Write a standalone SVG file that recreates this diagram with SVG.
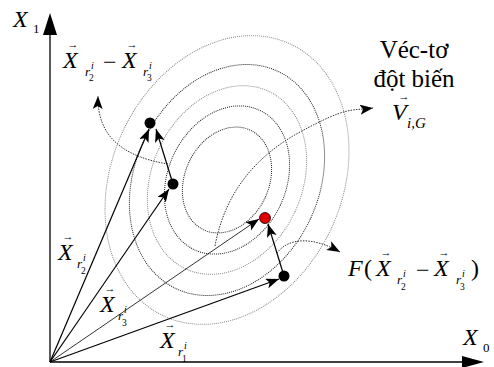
<svg xmlns="http://www.w3.org/2000/svg" width="494" height="367" viewBox="0 0 494 367">
<style>
  text{font-family:'Liberation Serif','Times New Roman',Times,'DejaVu Serif',serif;fill:#000}
  .m{font-style:italic;font-size:24px}
  .u{font-size:24px}
  .r{font-style:italic;font-size:13px}
  .i{font-style:italic;font-size:10px}
  .n{font-size:9.5px}
  .a{font-size:11px;text-anchor:middle}
  .t{font-size:25px;text-anchor:middle}
  .sub{font-size:13px}
  .c1{fill:none;stroke:#888;stroke-width:1;stroke-dasharray:1 1}
  .c2{fill:none;stroke:#222;stroke-width:1;stroke-dasharray:1 1}
  .vec{stroke:#000;stroke-width:1.2;fill:none}
  .thin{stroke:#000;stroke-width:0.8;fill:none}
  .cur{stroke:#333;stroke-width:1;fill:none;stroke-dasharray:1.5 1.2}
  .axis{stroke:#000;stroke-width:1.3;fill:none}
</style>
<defs>
  <marker id="ah" markerUnits="userSpaceOnUse" markerWidth="14" markerHeight="12" refX="13" refY="5" orient="auto">
    <path d="M0,0 L13,5 L0,10 L3,5 z" fill="#000"/>
  </marker>
</defs>

<g id="contours">
  <ellipse class="c1" cx="227" cy="180" rx="115" ry="150" transform="rotate(25 227 180)"/>
  <ellipse class="c2" cx="227" cy="180" rx="92" ry="120" transform="rotate(25 227 180)"/>
  <ellipse class="c1" cx="227" cy="180" rx="75" ry="98" transform="rotate(25 227 180)"/>
  <ellipse class="c2" cx="227" cy="180" rx="59" ry="77" transform="rotate(25 227 180)"/>
  <ellipse class="c2" cx="227" cy="180" rx="42" ry="55" transform="rotate(25 227 180)"/>
</g>

<g id="axes">
  <line class="axis" x1="50" y1="362" x2="50" y2="33"/>
  <polygon points="50,13 43,35 57,35" fill="#000"/>
  <line class="axis" x1="50" y1="362" x2="464" y2="362"/>
  <polygon points="484,362 462,356 462,368" fill="#000"/>
</g>

<g id="connectors">
  <line class="vec" x1="50" y1="362" x2="149" y2="129" marker-end="url(#ah)"/>
  <line class="vec" x1="50" y1="362" x2="169" y2="189" marker-end="url(#ah)"/>
  <line class="thin" x1="50" y1="362" x2="259" y2="219" marker-end="url(#ah)"/>
  <line class="vec" x1="50" y1="362" x2="279" y2="279" marker-end="url(#ah)"/>
  <line class="vec" x1="173" y1="184" x2="156" y2="129" marker-end="url(#ah)"/>
  <line class="vec" x1="284" y1="276" x2="268" y2="224" marker-end="url(#ah)"/>
  <path class="cur" d="M168,164 C125,157 97,138 98,96" marker-end="url(#ah)"/>
  <path class="cur" d="M215,246 C224,197 252,158 300,132 S350,111 373,108" marker-end="url(#ah)"/>
  <path class="cur" d="M277,253 C288,238 312,236 340,252" marker-end="url(#ah)"/>
</g>

<g id="dot-r2"><circle cx="150" cy="123" r="5.5" fill="#000"/></g>
<g id="dot-r3"><circle cx="173" cy="184" r="5.5" fill="#000"/></g>
<g id="dot-r1"><circle cx="284" cy="276" r="5.5" fill="#000"/></g>
<g id="dot-target"><circle cx="265" cy="218" r="5.5" fill="#e00000" stroke="#000" stroke-width="0.8"/></g>

<g id="label-X1">
  <text class="m" x="13" y="27">X</text>
  <text class="sub" x="33" y="33">1</text>
</g>
<g id="label-X0">
  <text class="m" x="463" y="345">X</text>
  <text class="sub" x="483" y="352">0</text>
</g>

<g id="label-diff">
  <text class="m" x="63" y="68">X</text>
  <text class="a" x="73" y="48">→</text>
  <text class="r" x="85" y="76">r</text>
  <text class="i" x="91" y="69">i</text>
  <text class="n" x="89" y="81">2</text>
  <text class="u" x="103" y="70">−</text>
  <text class="m" x="122" y="68">X</text>
  <text class="a" x="132" y="48">→</text>
  <text class="r" x="143" y="76">r</text>
  <text class="i" x="149" y="69">i</text>
  <text class="n" x="147" y="81">3</text>
</g>

<g id="label-mutant">
  <text class="t" x="414" y="58">Véc-tơ</text>
  <text class="t" x="414" y="87">đột biến</text>
  <text class="m" x="392" y="120">V</text>
  <text class="a" x="404" y="100">→</text>
  <text class="m" x="407" y="128" style="font-size:15px">i,G</text>
</g>

<g id="label-F">
  <text class="m" x="348" y="276">F</text>
  <text class="u" x="364" y="276">(</text>
  <text class="m" x="376" y="276">X</text>
  <text class="a" x="386" y="256">→</text>
  <text class="r" x="397" y="284">r</text>
  <text class="i" x="403" y="277">i</text>
  <text class="n" x="401" y="290">2</text>
  <text class="u" x="416" y="278">−</text>
  <text class="m" x="434" y="276">X</text>
  <text class="a" x="444" y="256">→</text>
  <text class="r" x="456" y="284">r</text>
  <text class="i" x="462" y="277">i</text>
  <text class="n" x="460" y="290">3</text>
  <text class="u" x="471" y="276">)</text>
</g>

<g id="label-Xr2">
  <text class="m" x="58" y="260">X</text>
  <text class="a" x="68" y="240">→</text>
  <text class="r" x="77" y="268">r</text>
  <text class="i" x="83" y="261">i</text>
  <text class="n" x="81" y="274">2</text>
</g>
<g id="label-Xr3">
  <text class="m" x="100" y="312">X</text>
  <text class="a" x="110" y="292">→</text>
  <text class="r" x="118" y="320">r</text>
  <text class="i" x="124" y="313">i</text>
  <text class="n" x="122" y="326">3</text>
</g>
<g id="label-Xr1">
  <text class="m" x="160" y="348">X</text>
  <text class="a" x="170" y="328">→</text>
  <text class="r" x="178" y="356">r</text>
  <text class="i" x="184" y="349">i</text>
  <text class="n" x="182" y="362">1</text>
</g>
</svg>
